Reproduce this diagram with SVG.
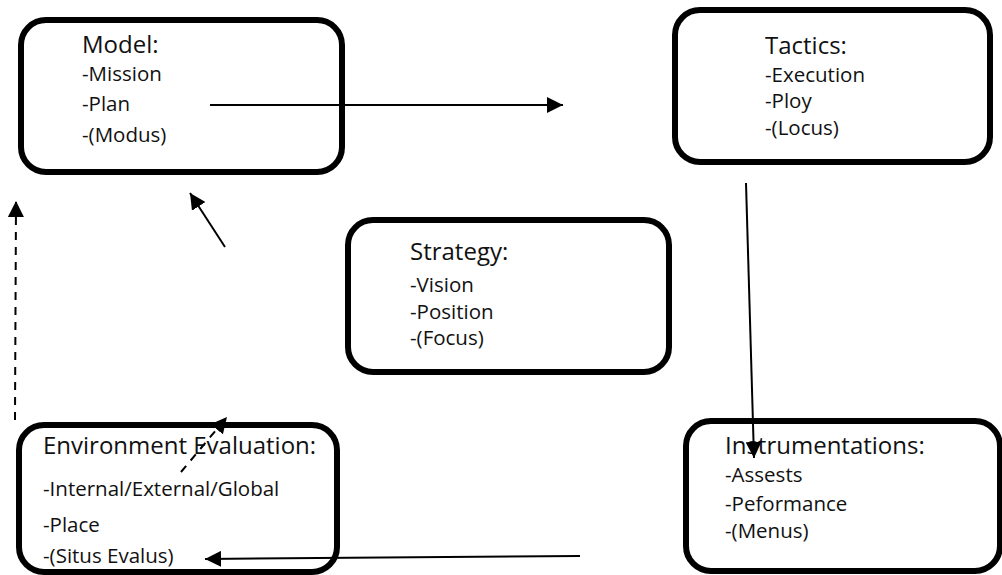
<svg xmlns="http://www.w3.org/2000/svg" width="1002" height="575" viewBox="0 0 1002 575">
<defs>
<style>
.box{fill:#fff;stroke:#000;stroke-width:6}
.t{font-family:"Open Sans","Noto Sans",sans-serif;fill:#111}
.h{font-size:24px}
.i{font-size:20.5px}
.c{stroke:#000;stroke-width:2;fill:none}
.d{stroke-dasharray:8 7}
</style>
<marker id="ah" viewBox="0 0 16 16" refX="16" refY="8" markerWidth="16" markerHeight="16" markerUnits="userSpaceOnUse" orient="auto">
<path d="M0,0 L16,8 L0,16 Z" fill="#000"/>
</marker>
</defs>
<rect width="1002" height="575" fill="#fff"/>
<g id="model">
<rect class="box" x="21" y="20" width="321" height="152" rx="25"/>
<text class="t h" x="82" y="53">Model:</text>
<text class="t i" x="82" y="81">-Mission</text>
<text class="t i" x="82" y="111">-Plan</text>
<text class="t i" x="82" y="142">-(Modus)</text>
</g>
<g id="tactics">
<rect class="box" x="675" y="10" width="315" height="152" rx="25"/>
<text class="t h" x="765" y="54">Tactics:</text>
<text class="t i" x="765" y="82">-Execution</text>
<text class="t i" x="765" y="108">-Ploy</text>
<text class="t i" x="765" y="135">-(Locus)</text>
</g>
<g id="strategy">
<rect class="box" x="348" y="220" width="321" height="152" rx="25"/>
<text class="t h" x="410" y="260">Strategy:</text>
<text class="t i" x="410" y="292">-Vision</text>
<text class="t i" x="410" y="319">-Position</text>
<text class="t i" x="410" y="345">-(Focus)</text>
</g>
<g id="environment">
<rect class="box" x="19" y="425" width="318" height="147" rx="25"/>
<text class="t h" x="43" y="454">Environment Evaluation:</text>
<text class="t i" x="43" y="496">-Internal/External/Global</text>
<text class="t i" x="43" y="532">-Place</text>
<text class="t i" x="43" y="563">-(Situs Evalus)</text>
</g>
<g id="instrumentations">
<rect class="box" x="686" y="421" width="314" height="150" rx="25"/>
<text class="t h" x="725" y="454">Instrumentations:</text>
<text class="t i" x="725" y="482">-Assests</text>
<text class="t i" x="725" y="511">-Peformance</text>
<text class="t i" x="725" y="538">-(Menus)</text>
</g>
<g id="connectors">
<line class="c" x1="210" y1="105" x2="563" y2="105" marker-end="url(#ah)"/>
<line class="c" x1="746" y1="183" x2="754" y2="458" marker-end="url(#ah)"/>
<line class="c" x1="580" y1="556" x2="205" y2="559" marker-end="url(#ah)"/>
<line class="c" x1="225" y1="247" x2="190" y2="193" marker-end="url(#ah)"/>
<line class="c d" x1="15" y1="420" x2="16" y2="201" marker-end="url(#ah)"/>
<line class="c d" x1="181" y1="472" x2="227" y2="417" marker-end="url(#ah)"/>
</g>
</svg>
